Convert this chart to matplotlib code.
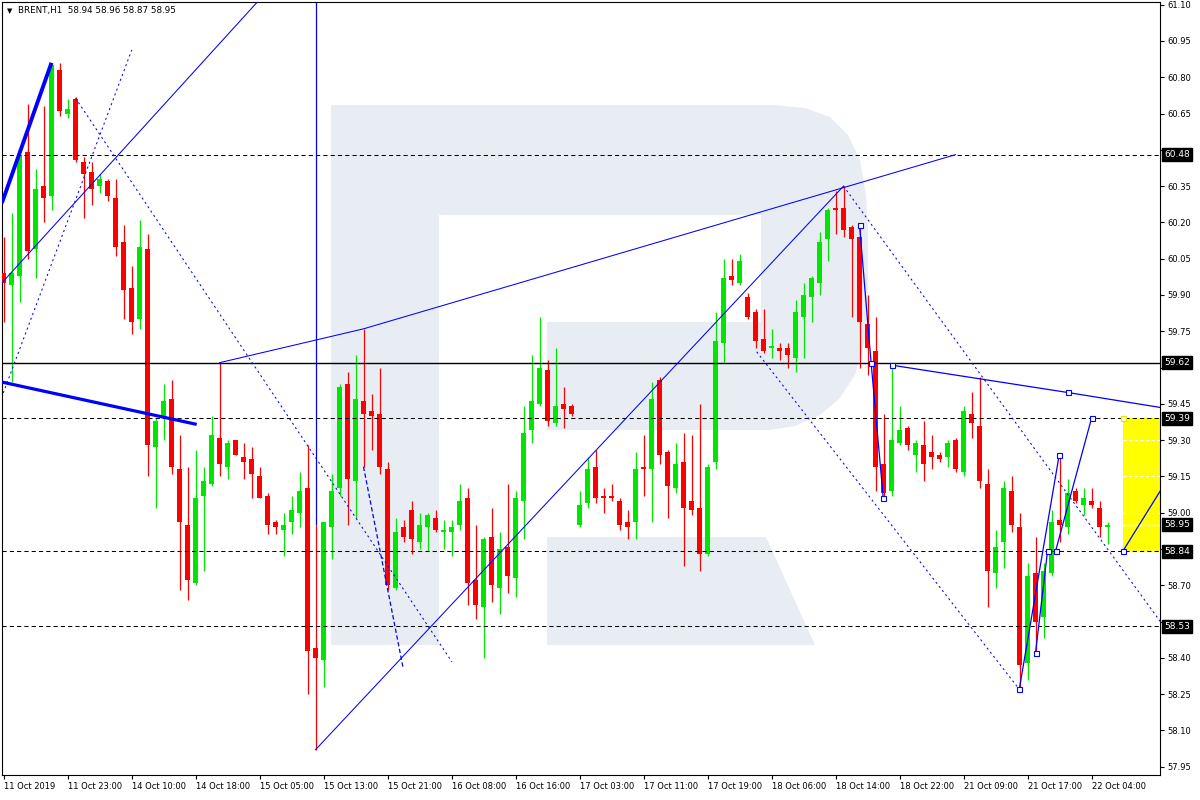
import matplotlib
matplotlib.use("Agg")
import matplotlib.pyplot as plt
import matplotlib.transforms as mtransforms
from matplotlib.patches import Polygon, Rectangle

# BRENT H1 candles, oldest first (one entry per hourly bar)
opens = [59.99, 59.94, 59.98, 60.49, 60.09, 60.35, 60.31, 60.83, 60.65, 60.71,
         60.45, 60.41, 60.35, 60.37, 60.30, 60.12, 59.93, 59.80, 60.09, 59.27,
         59.39, 59.47, 59.18, 58.95, 58.71, 59.07, 59.12, 59.31, 59.19, 59.30,
         59.23, 59.22, 59.15, 59.07, 58.96, 58.93, 58.96, 59.00, 59.10, 58.44,
         58.39, 58.94, 59.10, 59.53, 59.13, 59.46, 59.42, 59.41, 59.18, 58.69,
         58.94, 59.01, 58.88, 58.94, 58.98, 58.92, 58.92, 58.95, 59.06, 58.72,
         58.61, 58.90, 58.69, 58.86, 58.73, 59.05, 59.34, 59.45, 59.59, 59.37,
         59.45, 59.44, 58.95, 59.04, 59.19, 59.07, 59.07, 59.05, 58.96, 58.96,
         59.19, 59.18, 59.55, 59.25, 59.10, 59.21, 59.05, 59.02, 58.83, 59.21,
         59.70, 59.98, 59.95, 59.89, 59.83, 59.72, 59.68, 59.68, 59.68, 59.64,
         59.81, 59.89, 59.95, 60.13, 60.26, 60.26, 60.18, 60.14, 59.78, 59.67,
         59.20, 59.09, 59.29, 59.35, 59.24, 59.28, 59.25, 59.24, 59.23, 59.30,
         59.17, 59.41, 59.36, 59.12, 58.75, 58.88, 59.09, 58.94, 58.38, 58.75,
         58.57, 58.75, 58.97, 58.94, 59.09, 59.03, 59.05, 59.02, 58.94]
highs = [60.14, 60.24, 60.48, 60.69, 60.42, 60.68, 60.86, 60.86, 60.71, 60.72,
         60.47, 60.45, 60.40, 60.38, 60.38, 60.19, 60.02, 60.21, 60.15, 59.39,
         59.53, 59.55, 59.32, 59.19, 59.26, 59.19, 59.40, 59.62, 59.30, 59.30,
         59.29, 59.27, 59.19, 59.08, 58.97, 59.00, 59.07, 59.17, 59.28, 58.95,
         58.96, 59.16, 59.53, 59.58, 59.65, 59.76, 59.49, 59.60, 59.21, 58.98,
         58.97, 59.05, 59.00, 59.00, 59.01, 58.97, 58.97, 59.12, 59.10, 58.95,
         58.90, 59.02, 58.92, 59.12, 59.09, 59.44, 59.65, 59.81, 59.63, 59.68,
         59.52, 59.45, 59.09, 59.23, 59.26, 59.10, 59.12, 59.06, 59.01, 59.25,
         59.32, 59.54, 59.56, 59.26, 59.29, 59.33, 59.32, 59.45, 59.20, 59.83,
         60.05, 60.05, 60.07, 59.91, 59.84, 59.84, 59.76, 59.70, 59.70, 59.88,
         59.95, 59.98, 60.16, 60.26, 60.33, 60.35, 60.19, 60.19, 59.90, 59.81,
         59.41, 59.61, 59.44, 59.36, 59.30, 59.38, 59.32, 59.25, 59.30, 59.31,
         59.44, 59.50, 59.56, 59.18, 58.93, 59.13, 59.15, 59.00, 58.79, 58.90,
         58.79, 59.01, 59.24, 59.14, 59.10, 59.10, 59.10, 59.05, 58.96]
lows = [59.79, 59.54, 59.87, 60.05, 59.97, 60.20, 60.25, 60.64, 60.63, 60.45,
        60.22, 60.27, 60.32, 60.29, 60.06, 59.80, 59.74, 59.76, 59.15, 59.02,
        59.30, 59.16, 58.68, 58.64, 58.70, 58.76, 59.11, 59.15, 59.14, 59.24,
        59.14, 59.06, 59.06, 58.91, 58.91, 58.82, 58.91, 58.94, 58.25, 58.02,
        58.28, 58.81, 59.07, 58.95, 58.98, 59.19, 59.26, 59.16, 58.68, 58.68,
        58.88, 58.83, 58.85, 58.84, 58.92, 58.85, 58.82, 58.93, 58.62, 58.56,
        58.40, 58.63, 58.58, 58.67, 58.65, 58.89, 59.29, 59.44, 59.36, 59.36,
        59.35, 59.40, 58.94, 59.02, 59.04, 59.00, 59.05, 58.93, 58.89, 58.89,
        59.07, 58.96, 59.20, 58.98, 59.08, 58.78, 58.99, 58.76, 58.82, 59.18,
        59.62, 59.94, 59.94, 59.80, 59.68, 59.66, 59.64, 59.63, 59.60, 59.58,
        59.64, 59.79, 59.90, 60.04, 60.15, 60.14, 59.81, 59.60, 59.57, 59.09,
        59.06, 59.07, 59.28, 59.26, 59.17, 59.13, 59.18, 59.21, 59.19, 59.17,
        59.15, 59.31, 59.10, 58.61, 58.69, 58.77, 58.92, 58.27, 58.31, 58.42,
        58.48, 58.74, 58.88, 58.91, 59.04, 58.99, 59.02, 58.90, 58.87]
closes = [59.95, 59.99, 60.48, 60.08, 60.34, 60.30, 60.85, 60.66, 60.67, 60.46,
          60.40, 60.34, 60.38, 60.31, 60.10, 59.92, 59.79, 60.10, 59.28, 59.38,
          59.46, 59.19, 58.96, 58.72, 59.06, 59.13, 59.32, 59.20, 59.29, 59.24,
          59.21, 59.16, 59.06, 58.95, 58.94, 58.95, 59.01, 59.09, 58.43, 58.40,
          58.96, 59.09, 59.52, 59.14, 59.47, 59.41, 59.40, 59.19, 58.70, 58.92,
          58.90, 58.89, 58.95, 58.99, 58.93, 58.93, 58.94, 59.05, 58.71, 58.62,
          58.89, 58.70, 58.85, 58.74, 59.06, 59.33, 59.46, 59.60, 59.38, 59.44,
          59.43, 59.41, 59.03, 59.18, 59.06, 59.06, 59.06, 58.95, 58.94, 59.18,
          59.18, 59.47, 59.24, 59.11, 59.20, 59.02, 59.01, 58.83, 59.19, 59.71,
          59.97, 59.96, 60.04, 59.81, 59.71, 59.67, 59.69, 59.67, 59.65, 59.83,
          59.90, 59.97, 60.12, 60.25, 60.25, 60.17, 60.13, 59.79, 59.68, 59.19,
          59.08, 59.30, 59.34, 59.28, 59.29, 59.20, 59.23, 59.22, 59.29, 59.18,
          59.42, 59.37, 59.13, 58.76, 58.86, 59.10, 58.95, 58.37, 58.74, 58.55,
          58.76, 58.96, 58.95, 59.08, 59.05, 59.06, 59.03, 58.94, 58.95]

time_labels = ["11 Oct 2019", "11 Oct 23:00", "14 Oct 10:00", "14 Oct 18:00",
               "15 Oct 05:00", "15 Oct 13:00", "15 Oct 21:00", "16 Oct 08:00",
               "16 Oct 16:00", "17 Oct 03:00", "17 Oct 11:00", "17 Oct 19:00",
               "18 Oct 06:00", "18 Oct 14:00", "18 Oct 22:00", "21 Oct 09:00",
               "21 Oct 17:00", "22 Oct 04:00"]
label_every = 8

price_ticks = [61.10, 60.95, 60.80, 60.65, 60.50, 60.35, 60.20, 60.05, 59.90,
               59.75, 59.60, 59.45, 59.30, 59.15, 59.00, 58.85, 58.70, 58.55,
               58.40, 58.25, 58.10, 57.95]

dashed_levels = [60.48, 59.39, 58.84, 58.53]
solid_level = 59.62
boxed_prices = [60.48, 59.62, 59.39, 58.95, 58.84, 58.53]
bid_price = 58.95

# analyst drawings as (bar, price) points
thick_up = [(-0.2, 60.28), (6.0, 60.86)]
thick_down = [(-0.2, 59.54), (24.15, 59.365)]
thin_solid = [[(-0.2, 59.95), (31.7, 61.11)],
              [(27, 59.62), (45, 59.76), (119, 60.48)],
              [(39, 58.02), (105, 60.35)]]
dotted = [[(-0.03, 59.495), (16.03, 60.913)],
          [(9.0, 60.714), (56.06, 58.383)],
          [(105, 60.35), (144.6, 58.55)],
          [(94.15, 59.665), (126.97, 58.27)]]
dashed_fan = [(45, 59.19), (49.94, 58.36)]
vertical_bar, vertical_from, vertical_to = 39, 61.12, 58.95
zigzags = [[(107.0, 60.19), (108.45, 59.62), (109.97, 59.06)],
           [(111.0, 59.61), (133.0, 59.497), (144.6, 59.435)],
           [(126.97, 58.27), (131.97, 59.24)],
           [(129.0, 58.42), (130.5, 58.84)],
           [(131.5, 58.84), (136.0, 59.39)]]
zig_markers = [(107.0, 60.19), (108.45, 59.62), (109.97, 59.06), (111.0, 59.61),
               (133.0, 59.497), (126.97, 58.27), (129.0, 58.42), (130.5, 58.84),
               (131.5, 58.84), (131.97, 59.24), (136.0, 59.39)]
target_start = 139.9
target_low, target_high = 58.84, 59.39
target_path = [(139.9, 58.84), (144.6, 59.09)]

GREEN = "#00E600"
RED = "#FF0000"
BLUE = "#0000FF"
WATERMARK = "#E8EDF4"

W, H = 1200, 800
fig = plt.figure(figsize=(12, 8), dpi=100)
ax = fig.add_axes([2 / W, 1 - 775 / H, 1158 / W, 773 / H])
ax.set_xlim(-0.1875, 144.5625)
ax.set_ylim(57.9156, 61.1111)


def ref(px, py):
    # reference pixel -> axes fraction (for the background logo only)
    return ((px - 2) / 1158, (775 - py) / 773)


# watermark logo
r_top = [(331, 105), (775, 105), (805, 108), (830, 117), (848, 135), (860, 160),
         (866, 195), (868, 230), (868, 310), (864, 345), (855, 375), (840, 398),
         (820, 415), (795, 426), (770, 430), (547, 430), (547, 322), (761, 322),
         (761, 215), (439, 215), (439, 645), (331, 645)]
r_leg = [(547, 537), (766, 537), (815, 645), (547, 645)]
for shape in (r_top, r_leg):
    ax.add_patch(Polygon([ref(*p) for p in shape], closed=True, transform=ax.transAxes,
                         facecolor=WATERMARK, edgecolor="none", zorder=0))

# target box
ax.add_patch(Rectangle((target_start, target_low), 10, target_high - target_low,
                       facecolor="#FFFF00", edgecolor="none", zorder=1))
for v in price_ticks:
    if target_low < v < target_high:
        ax.plot([target_start, 145], [v, v], color="white", lw=0.8,
                ls=(0, (3, 2)), zorder=1.2)
ax.plot([target_start, 145], [bid_price, bid_price], color="white", lw=1.0, zorder=1.2)

# candles
for i in range(len(opens)):
    col = GREEN if closes[i] >= opens[i] else RED
    ax.vlines(i, lows[i], highs[i], color=col, lw=0.9, zorder=2)
    lo = min(opens[i], closes[i])
    hi = max(opens[i], closes[i])
    ax.add_patch(Rectangle((i - 0.3125, lo), 0.625, max(hi - lo, 0.005),
                           facecolor=col, edgecolor="none", zorder=3))

# horizontal levels
for lv in dashed_levels:
    ax.axhline(lv, color="black", lw=0.75, ls=(0, (4, 3)), zorder=4)
ax.axhline(solid_level, color="black", lw=1.0, zorder=4)

# drawings
ax.plot(*zip(*thick_up), color=BLUE, lw=2.8, zorder=5, solid_capstyle="butt")
ax.plot(*zip(*thick_down), color=BLUE, lw=2.3, zorder=5, solid_capstyle="butt")
for seg in thin_solid:
    ax.plot(*zip(*seg), color=BLUE, lw=0.75, zorder=5)
for seg in dotted:
    ax.plot(*zip(*seg), color=BLUE, lw=0.75, ls=(0, (2, 3)), zorder=5)
ax.plot(*zip(*dashed_fan), color=BLUE, lw=0.9, ls=(0, (3.5, 2)), zorder=5)
ax.vlines(vertical_bar, vertical_to, vertical_from, color=BLUE, lw=0.9, zorder=1.8)
for seg in zigzags:
    ax.plot(*zip(*seg), color=BLUE, lw=0.9, zorder=5)
ax.plot(*zip(*target_path), color=BLUE, lw=0.9, zorder=5)
ax.plot(*zip(*zig_markers), ls="none", marker="s", ms=3.6, mfc="white",
        mec=BLUE, mew=0.8, zorder=6)
ax.plot([target_path[0][0]], [target_path[0][1]], ls="none", marker="s", ms=3.6,
        mfc="white", mec=BLUE, mew=0.8, zorder=6)
ax.plot([target_start], [target_high], ls="none", marker="s", ms=3.6,
        mfc="white", mec="#E8E800", mew=1.0, zorder=6)

# axes styling
for s in ax.spines.values():
    s.set_color("black")
    s.set_linewidth(0.8)
ax.yaxis.tick_right()
ax.set_yticks(price_ticks)


def scale_label(v):
    # labels hidden behind a price box are left blank
    if any(abs(v - p) < 0.04 for p in boxed_prices):
        return ""
    return f"{v:.2f}"


ax.set_yticklabels([scale_label(v) for v in price_ticks])
ax.tick_params(axis="y", direction="out", length=3, width=0.8, labelsize=6, pad=2)
ax.set_xticks(list(range(0, label_every * len(time_labels), label_every)))
ax.set_xticklabels(time_labels, ha="left")
ax.tick_params(axis="x", direction="out", length=3, width=0.8, labelsize=6, pad=2)

# price boxes on the scale
tr = mtransforms.blended_transform_factory(ax.transAxes, ax.transData)
for p in boxed_prices:
    ax.text(1.0035, p, f"{p:.2f}", transform=tr, ha="left", va="center",
            fontsize=6.5, color="white", zorder=10, clip_on=False,
            bbox=dict(boxstyle="square,pad=0.22", fc="black", ec="black"))

# header
fig.text(7 / W, 1 - 11 / H, "\u25bc", fontsize=5, va="center", ha="left")
fig.text(18 / W, 1 - 11 / H,
         f"BRENT,H1  {opens[-1]:.2f} {highs[-1]:.2f} {lows[-1]:.2f} {closes[-1]:.2f}",
         fontsize=6.3, va="center", ha="left")

fig.savefig("out.png", dpi=100)
